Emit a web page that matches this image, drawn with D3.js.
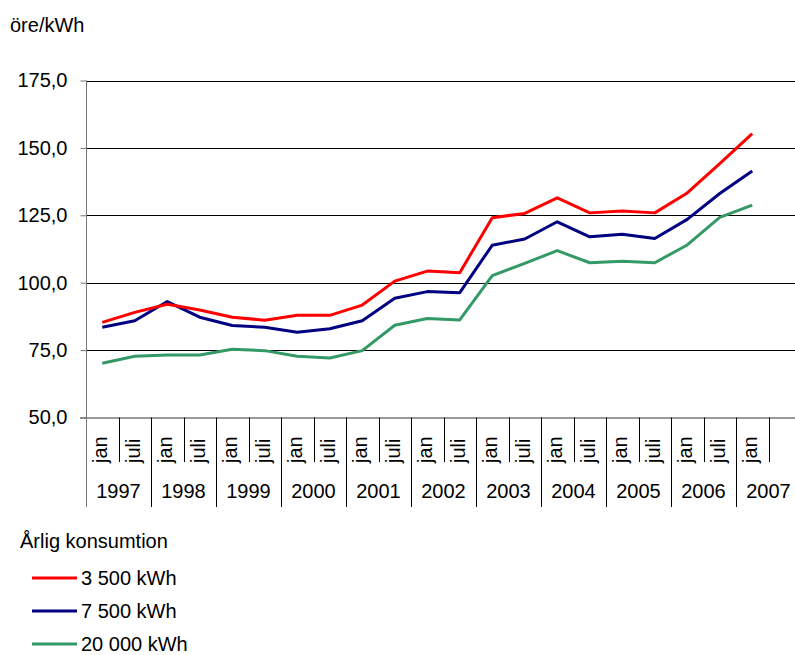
<!DOCTYPE html>
<html>
<head>
<meta charset="utf-8">
<script src="https://cdn.jsdelivr.net/npm/d3@7"></script>
<style>
  body { margin: 0; background: #fff; }
  text { font-family: "Liberation Sans", Arial, sans-serif; fill: #000; }
</style>
</head>
<body>
<div id="chart"></div>
<script>
// categories: half-year points, jan 1997 .. juli 2007 (last slot has no data)
var halfYears = ["jan","juli","jan","juli","jan","juli","jan","juli","jan","juli","jan",
                 "juli","jan","juli","jan","juli","jan","juli","jan","juli","jan",""];
var years = ["1997","1998","1999","2000","2001","2002","2003","2004","2005","2006","2007"];
var yTicks = [50, 75, 100, 125, 150, 175];

// price in öre/kWh per yearly consumption
var kwh3500  = [85.3, 89.0, 92.0, 89.9, 87.2, 86.1, 87.9, 87.9, 91.7, 100.6, 104.3,
                103.7, 124.1, 125.7, 131.5, 125.9, 126.6, 125.9, 133.3, 144.2, 155.3];
var kwh7500  = [83.5, 85.9, 93.0, 87.2, 84.1, 83.5, 81.6, 82.9, 85.9, 94.2, 96.7,
                96.3, 113.9, 116.2, 122.6, 117.0, 118.0, 116.4, 123.5, 133.1, 141.4];
var kwh20000 = [70.1, 72.7, 73.2, 73.2, 75.3, 74.8, 72.7, 72.1, 74.8, 84.2, 86.7,
                86.2, 102.6, 107.2, 111.9, 107.4, 108.0, 107.4, 114.0, 124.2, 128.8];

var seriesNames = ["3 500 kWh", "7 500 kWh", "20 000 kWh"];
var seriesColors = ["#ff0000", "#000080", "#339966"];
var seriesData = [kwh3500, kwh7500, kwh20000];

var width = 795, height = 655;
var plotLeft = 86, plotTop = 80.5, plotBottom = 417.5, plotRight = 86 + 22 * 32.5;
var fontSize = "20px";

var svg = d3.select("#chart").append("svg")
    .attr("width", width)
    .attr("height", height);

var x = d3.scaleBand()
    .domain(d3.range(halfYears.length))
    .range([plotLeft, plotRight])
    .padding(0);

var y = d3.scaleLinear()
    .domain([50, 175])
    .range([plotBottom, plotTop]);

// gridlines
svg.append("g")
    .selectAll("line")
    .data(yTicks.slice(1))
    .enter().append("line")
        .attr("x1", plotLeft)
        .attr("x2", width)
        .attr("y1", function(d) { return Math.round(y(d)) + 0.5; })
        .attr("y2", function(d) { return Math.round(y(d)) + 0.5; })
        .attr("stroke", "#000")
        .attr("stroke-width", 1);

// y axis
var yaxis = svg.append("g")
    .attr("transform", "translate(" + (plotLeft + 0.5) + ",0)")
    .call(d3.axisLeft(y).tickValues(yTicks).tickSize(6).tickPadding(13)
        .tickFormat(function(d) { return d.toFixed(1).replace(".", ","); }));
yaxis.select(".domain").remove();
yaxis.selectAll(".tick line").attr("stroke", "#777");
yaxis.selectAll(".tick text")
    .attr("font-size", fontSize)
    .attr("font-family", "Liberation Sans, Arial, sans-serif");

// vertical axis line (runs down to the year row)
svg.append("line")
    .attr("x1", plotLeft + 0.5).attr("x2", plotLeft + 0.5)
    .attr("y1", plotTop).attr("y2", 507)
    .attr("stroke", "#777");

// x axis line
svg.append("line")
    .attr("x1", plotLeft - 6).attr("x2", width)
    .attr("y1", plotBottom + 0.5).attr("y2", plotBottom + 0.5)
    .attr("stroke", "#777")
    .attr("stroke-width", 1.5);

// category separators: short inside a year, long between years
svg.append("g")
    .selectAll("line")
    .data(d3.range(1, halfYears.length))
    .enter().append("line")
        .attr("x1", function(i) { return Math.round(x(i)) + 0.5; })
        .attr("x2", function(i) { return Math.round(x(i)) + 0.5; })
        .attr("y1", plotBottom)
        .attr("y2", function(i) { return i % 2 === 0 ? 507 : 462; })
        .attr("stroke", "#000");

// half-year labels
svg.append("g")
    .selectAll("text")
    .data(halfYears)
    .enter().append("text")
        .attr("transform", function(d, i) {
            return "translate(" + (x(i) + x.bandwidth() / 2 + 5) + ",463) rotate(-90)";
        })
        .attr("font-size", fontSize)
        .text(function(d) { return d; });

// year labels
svg.append("g")
    .selectAll("text")
    .data(years)
    .enter().append("text")
        .attr("x", function(d, i) { return x(i * 2) + x.bandwidth(); })
        .attr("y", 498)
        .attr("text-anchor", "middle")
        .attr("font-size", fontSize)
        .text(function(d) { return d; });

// unit label
svg.append("text")
    .attr("x", 10)
    .attr("y", 32)
    .attr("font-size", fontSize)
    .text("öre/kWh");

// lines
var line = d3.line()
    .x(function(d, i) { return x(i) + x.bandwidth() / 2; })
    .y(function(d) { return y(d); });

// draw in reverse so red sits on top
seriesData.slice().reverse().forEach(function(s, k) {
    var idx = seriesData.length - 1 - k;
    svg.append("path")
        .datum(s)
        .attr("fill", "none")
        .attr("stroke", seriesColors[idx])
        .attr("stroke-width", 3)
        .attr("stroke-linejoin", "round")
        .attr("d", line);
});

// legend
var legend = svg.append("g");
legend.append("text")
    .attr("x", 20)
    .attr("y", 548)
    .attr("font-size", fontSize)
    .text("Årlig konsumtion");

var legendY = [578, 611, 644];
seriesNames.forEach(function(name, i) {
    legend.append("line")
        .attr("x1", 32).attr("x2", 77)
        .attr("y1", legendY[i]).attr("y2", legendY[i])
        .attr("stroke", seriesColors[i])
        .attr("stroke-width", 3);
    legend.append("text")
        .attr("x", 81)
        .attr("y", legendY[i] + 7)
        .attr("font-size", fontSize)
        .text(name);
});
</script>
</body>
</html>
